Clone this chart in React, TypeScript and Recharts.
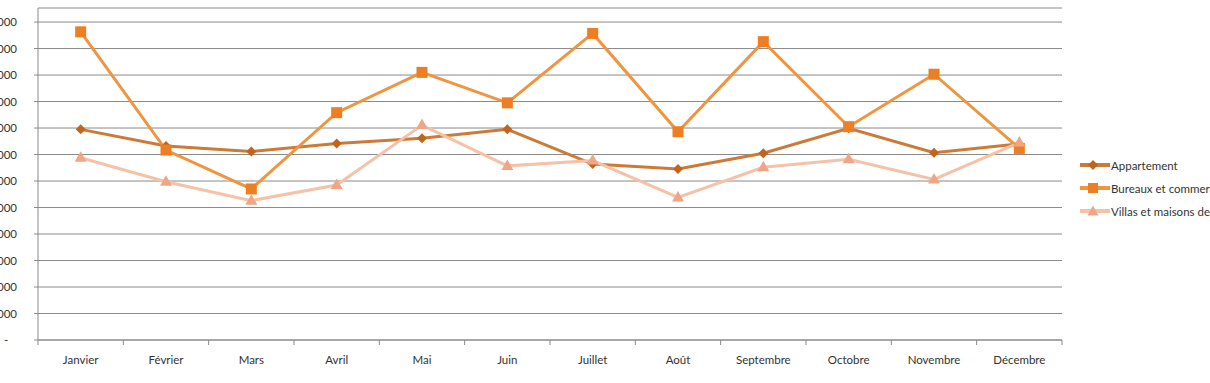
import React from 'react';
import { LineChart, Line, XAxis, YAxis, CartesianGrid, Legend } from 'recharts';

const months = ['Janvier', 'Février', 'Mars', 'Avril', 'Mai', 'Juin', 'Juillet', 'Août', 'Septembre', 'Octobre', 'Novembre', 'Décembre'];
const seriesNames = ['Appartement', 'Bureaux et commerces', 'Villas et maisons de maître'];
const appartement = [79500, 73200, 71100, 74200, 76100, 79500, 66400, 64500, 70500, 79900, 70700, 74000];
const bureaux = [116300, 71700, 57000, 85800, 101000, 89500, 115700, 78600, 112600, 80500, 100300, 72300];
const villas = [68800, 59700, 52600, 58500, 81100, 65700, 67700, 53800, 65200, 68200, 60600, 74500];
const yTicks = [0, 10000, 20000, 30000, 40000, 50000, 60000, 70000, 80000, 90000, 100000, 110000, 120000];
const yMax = 125300;

const colors = {
  appLine: '#CB7A38', appMark: '#C2651C',
  burLine: '#F0953F', burMark: '#EE7E22',
  vilLine: '#F5C2A7', vilMark: '#EEA687',
};

const data = months.map((m, i) => ({
  idx: i + 0.5,
  month: m,
  appartement: appartement[i],
  bureaux: bureaux[i],
  villas: villas[i],
}));

const xTicks: number[] = [];
for (let i = 0; i <= months.length * 2; i++) xTicks.push(i / 2);

const FONT = 'Lato, "DejaVu Sans", sans-serif';
const AXIS = '#8a8a8a';

const fmtY = (v: number) => (v === 0 ? '-\u00a0\u00a0\u00a0' : String(v).replace(/\B(?=(\d{3})+(?!\d))/g, '\u00a0'));

const XTick = (props: any) => {
  const { x, y, payload } = props;
  const v = payload.value as number;
  if (Number.isInteger(v)) {
    return <line x1={x} x2={x} y1={y} y2={y + 5} stroke={AXIS} strokeWidth={1} />;
  }
  return (
    <text x={x} y={y + 19} textAnchor="middle" dominantBaseline="central" fontSize={11.5} fontFamily={FONT} fill="#333">
      {months[Math.floor(v)]}
    </text>
  );
};

const squareDot = (p: any) => (
  <rect key={`s-${p.index}`} x={p.cx - 5.5} y={p.cy - 5.5} width={11} height={11} fill={colors.burMark} />
);
const diamondDot = (p: any) => (
  <polygon key={`d-${p.index}`} points={`${p.cx},${p.cy - 5} ${p.cx + 5},${p.cy} ${p.cx},${p.cy + 5} ${p.cx - 5},${p.cy}`} fill={colors.appMark} />
);
const triangleDot = (p: any) => (
  <polygon key={`t-${p.index}`} points={`${p.cx},${p.cy - 6.5} ${p.cx + 6},${p.cy + 4} ${p.cx - 6},${p.cy + 4}`} fill={colors.vilMark} />
);

const legendItems = [
  { name: seriesNames[0], line: colors.appLine, mark: colors.appMark, shape: 'diamond' },
  { name: seriesNames[1], line: colors.burLine, mark: colors.burMark, shape: 'square' },
  { name: seriesNames[2], line: colors.vilLine, mark: colors.vilMark, shape: 'triangle' },
];

const renderLegend = () => (
  <div style={{ fontFamily: FONT, fontSize: 11.5, color: '#333' }}>
    {legendItems.map((it) => (
      <div key={it.name} style={{ height: 23, display: 'flex', alignItems: 'center', whiteSpace: 'nowrap' }}>
        <svg width={30} height={12} style={{ display: 'block' }}>
          <line x1={0} x2={30} y1={6} y2={6} stroke={it.line} strokeWidth={4} />
          {it.shape === 'diamond' && <polygon points="13,1 18,6 13,11 8,6" fill={it.mark} />}
          {it.shape === 'square' && <rect x={8} y={1} width={10} height={10} fill={it.mark} />}
          {it.shape === 'triangle' && <polygon points="13,0.5 18.5,10.5 7.5,10.5" fill={it.mark} />}
        </svg>
        <span style={{ marginLeft: 1 }}>{it.name}</span>
      </div>
    ))}
  </div>
);

export default function App() {
  return (
    <div style={{ position: 'fixed', left: 0, top: 0, width: 1210, height: 383, overflow: 'hidden', background: '#fff' }}>
      <LineChart width={1210} height={383} data={data} margin={{ top: 8, right: 148, bottom: 0, left: 0 }}>
        <CartesianGrid vertical={false} stroke={AXIS} strokeWidth={1} />
        <XAxis
          type="number"
          dataKey="idx"
          domain={[0, months.length]}
          ticks={xTicks}
          interval={0}
          height={43}
          tickSize={0}
          tickMargin={0}
          tickLine={false}
          axisLine={{ stroke: AXIS }}
          tick={<XTick />}
          allowDecimals
        />
        <YAxis
          type="number"
          domain={[0, yMax]}
          ticks={yTicks}
          interval={0}
          width={38}
          tickSize={4}
          tickMargin={17}
          tickLine={{ stroke: AXIS }}
          axisLine={{ stroke: AXIS }}
          tickFormatter={fmtY}
          tick={{ fontSize: 11.5, fontFamily: FONT, fill: '#333' }}
          allowDataOverflow
        />
        <Legend
          verticalAlign="middle"
          align="center"
          layout="horizontal"
          content={renderLegend}
          wrapperStyle={{ left: 1080, top: 153.5, right: 'auto', bottom: 'auto', width: 220 }}
        />
        <Line dataKey="appartement" name={seriesNames[0]} stroke={colors.appLine} strokeWidth={3} dot={diamondDot} activeDot={false} isAnimationActive={false} />
        <Line dataKey="bureaux" name={seriesNames[1]} stroke={colors.burLine} strokeWidth={3} dot={squareDot} activeDot={false} isAnimationActive={false} />
        <Line dataKey="villas" name={seriesNames[2]} stroke={colors.vilLine} strokeWidth={3} dot={triangleDot} activeDot={false} isAnimationActive={false} />
      </LineChart>
    </div>
  );
}
